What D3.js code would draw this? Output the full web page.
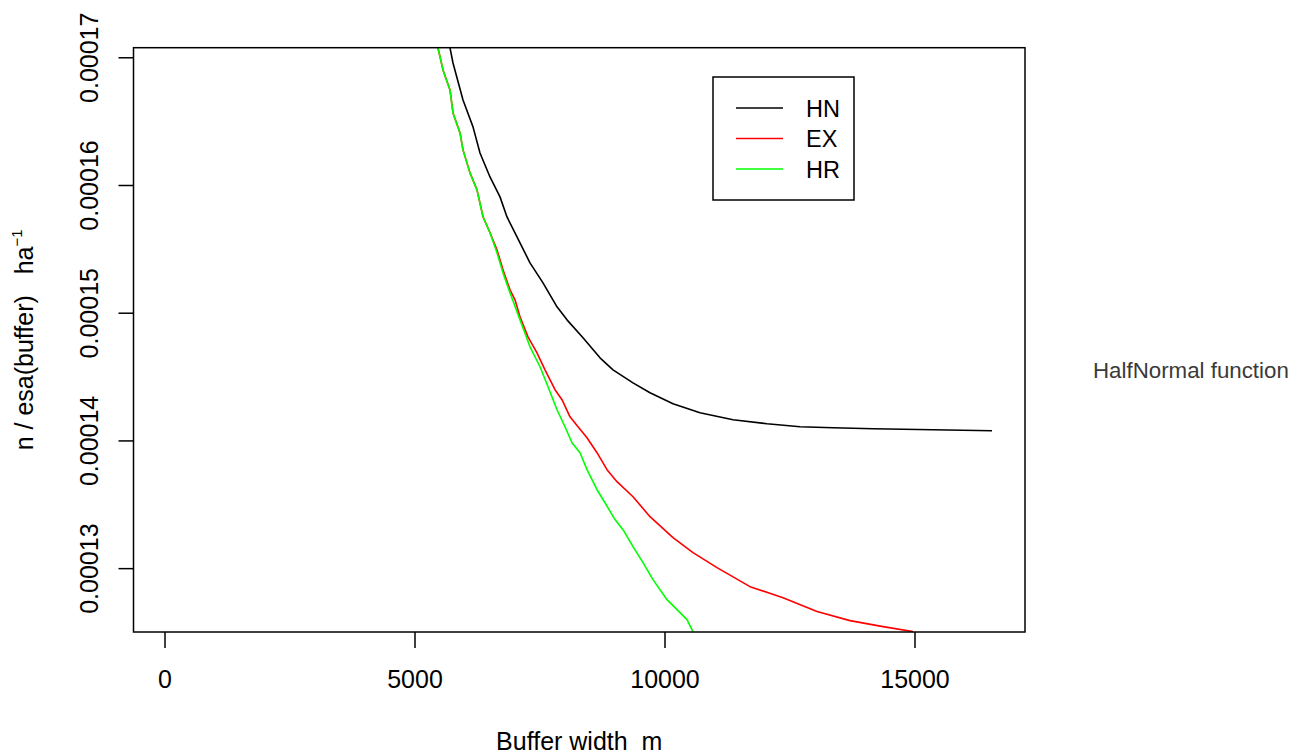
<!DOCTYPE html>
<html>
<head>
<meta charset="utf-8">
<script src="https://cdn.jsdelivr.net/npm/d3@7"></script>
<style>
  html, body { margin: 0; padding: 0; background: #fff; }
  svg { display: block; }
  text { font-family: "Liberation Sans", Arial, sans-serif; white-space: pre; }
</style>
</head>
<body>
<svg id="chart" width="1292" height="754"></svg>
<script>
// ---- data ----
const seriesNames = ["HN", "EX", "HR"];
const seriesColors = ["#000000", "#FF0000", "#00FF00"];

const hnX = [5710, 5770, 5970, 6170, 6310, 6510, 6710, 6850, 7050, 7310, 7570, 7850, 8050, 8370, 8710, 8970, 9370, 9710, 10170, 10710, 11370, 12050, 12710, 13370, 14170, 15370, 16550];
const hnY = [0.00017073, 0.00016955, 0.00016666, 0.00016455, 0.00016251, 0.00016063, 0.00015907, 0.0001575, 0.00015594, 0.0001539, 0.00015234, 0.00015046, 0.00014944, 0.00014804, 0.00014647, 0.00014553, 0.00014451, 0.00014373, 0.00014287, 0.00014217, 0.00014162, 0.00014131, 0.00014107, 0.00014099, 0.00014092, 0.00014084, 0.00014076];

const exX = [5470, 5570, 5710, 5770, 5910, 5970, 6110, 6250, 6370, 6510, 6650, 6770, 6910, 7010, 7110, 7270, 7450, 7610, 7810, 7950, 8110, 8270, 8450, 8650, 8850, 9050, 9370, 9710, 10170, 10570, 11050, 11710, 12370, 13050, 13710, 14370, 14970];
const exY = [0.00017073, 0.00016901, 0.00016744, 0.00016564, 0.00016408, 0.00016275, 0.00016095, 0.00015962, 0.00015751, 0.00015626, 0.00015492, 0.00015336, 0.00015179, 0.00015101, 0.00014968, 0.00014811, 0.00014686, 0.00014553, 0.00014397, 0.00014319, 0.00014185, 0.00014107, 0.00014021, 0.00013904, 0.00013771, 0.00013677, 0.00013559, 0.00013403, 0.00013239, 0.00013121, 0.00013004, 0.00012855, 0.00012769, 0.0001266, 0.00012589, 0.00012542, 0.00012503];

const hrX = [5470, 5570, 5710, 5770, 5910, 5970, 6110, 6250, 6370, 6510, 6650, 6770, 6910, 7110, 7310, 7510, 7670, 7850, 8010, 8150, 8310, 8450, 8650, 8810, 9010, 9170, 9370, 9570, 9770, 10050, 10310, 10450, 10570];
const hrY = [0.00017073, 0.00016901, 0.00016744, 0.00016564, 0.00016408, 0.00016275, 0.00016095, 0.00015962, 0.00015751, 0.00015626, 0.00015469, 0.00015312, 0.00015156, 0.00014944, 0.00014733, 0.00014577, 0.0001442, 0.0001424, 0.00014107, 0.00013982, 0.00013904, 0.00013771, 0.00013614, 0.00013512, 0.0001338, 0.00013301, 0.00013168, 0.00013043, 0.0001291, 0.00012753, 0.00012652, 0.00012597, 0.00012503];

const xTicks = [0, 5000, 10000, 15000];
const yTicks = [0.00013, 0.00014, 0.00015, 0.00016, 0.00017];
const yTickLabels = ["0.00013", "0.00014", "0.00015", "0.00016", "0.00017"];
const xTitle = "Buffer width  m";
const yTitleMain = "n / esa(buffer)   ha";
const yTitleSup = "\u22121";
const sideNote = "HalfNormal function";

// ---- layout ----
const svg = d3.select("#chart");
const plot = { left: 133.5, right: 1025, top: 47.7, bottom: 632 };

const x = d3.scaleLinear().domain([-620, 17210]).range([plot.left, plot.right]);
const y = d3.scaleLinear().domain([0.000125, 0.00017075]).range([plot.bottom, plot.top]);

svg.append("defs").append("clipPath").attr("id", "clip")
  .append("rect")
  .attr("x", plot.left).attr("y", plot.top)
  .attr("width", plot.right - plot.left).attr("height", plot.bottom - plot.top);

const series = [
  { xs: hnX, ys: hnY },
  { xs: exX, ys: exY },
  { xs: hrX, ys: hrY }
];

const line = d3.line().x(d => x(d[0])).y(d => y(d[1]));
const lines = svg.append("g").attr("clip-path", "url(#clip)");
series.forEach((s, i) => {
  const pts = s.xs.map((v, j) => [v, s.ys[j]]);
  lines.append("path")
    .attr("d", line(pts))
    .attr("fill", "none")
    .attr("stroke", seriesColors[i])
    .attr("stroke-width", 1.6)
    .attr("stroke-linejoin", "round");
});

// box
svg.append("rect")
  .attr("x", plot.left).attr("y", plot.top)
  .attr("width", plot.right - plot.left).attr("height", plot.bottom - plot.top)
  .attr("fill", "none").attr("stroke", "#000").attr("stroke-width", 1.5);

// x axis
const xAxis = d3.axisBottom(x).tickValues(xTicks).tickSize(16).tickPadding(22).tickFormat(d3.format("d"));
const gx = svg.append("g").attr("transform", `translate(0,${plot.bottom})`).call(xAxis);
gx.select(".domain").remove();
gx.selectAll(".tick line").attr("stroke", "#000").attr("stroke-width", 1.5);
gx.selectAll(".tick text").attr("font-size", 25).attr("fill", "#000")
  .attr("font-family", "'Liberation Sans', Arial, sans-serif").attr("dy", "0.71em");

// y axis
const yAxis = d3.axisLeft(y).tickValues(yTicks).tickSize(15).tickFormat((d, i) => yTickLabels[i]);
const gy = svg.append("g").attr("transform", `translate(${plot.left},0)`).call(yAxis);
gy.select(".domain").remove();
gy.selectAll(".tick line").attr("stroke", "#000").attr("stroke-width", 1.5);
gy.selectAll(".tick text")
  .attr("font-size", 25).attr("fill", "#000")
  .attr("font-family", "'Liberation Sans', Arial, sans-serif")
  .attr("x", null).attr("dy", null)
  .attr("text-anchor", "middle")
  .attr("transform", "translate(-36,0) rotate(-90)");

// titles
svg.append("text")
  .attr("x", (plot.left + plot.right) / 2).attr("y", 750)
  .attr("text-anchor", "middle").attr("font-size", 25).attr("fill", "#000")
  .text(xTitle);

const yt = svg.append("text")
  .attr("transform", `translate(33,${(plot.top + plot.bottom) / 2}) rotate(-90)`)
  .attr("text-anchor", "middle").attr("font-size", 25).attr("fill", "#000");
yt.append("tspan").text(yTitleMain);
yt.append("tspan").attr("font-size", 15).attr("dy", -11).text(yTitleSup);

// legend
const lg = svg.append("g");
lg.append("rect").attr("x", 713).attr("y", 77).attr("width", 141).attr("height", 123)
  .attr("fill", "#fff").attr("stroke", "#000").attr("stroke-width", 1.5);
seriesNames.forEach((n, i) => {
  const yy = 108 + i * 30.5;
  lg.append("line").attr("x1", 736).attr("x2", 783).attr("y1", yy).attr("y2", yy)
    .attr("stroke", seriesColors[i]).attr("stroke-width", 1.6);
  lg.append("text").attr("x", 806).attr("y", yy + 8.5).attr("font-size", 23.5).attr("fill", "#000").text(n);
});

// side note
svg.append("text").attr("x", 1093).attr("y", 378).attr("font-size", 22.3).attr("fill", "#3a3a3a").text(sideNote);
</script>
</body>
</html>
